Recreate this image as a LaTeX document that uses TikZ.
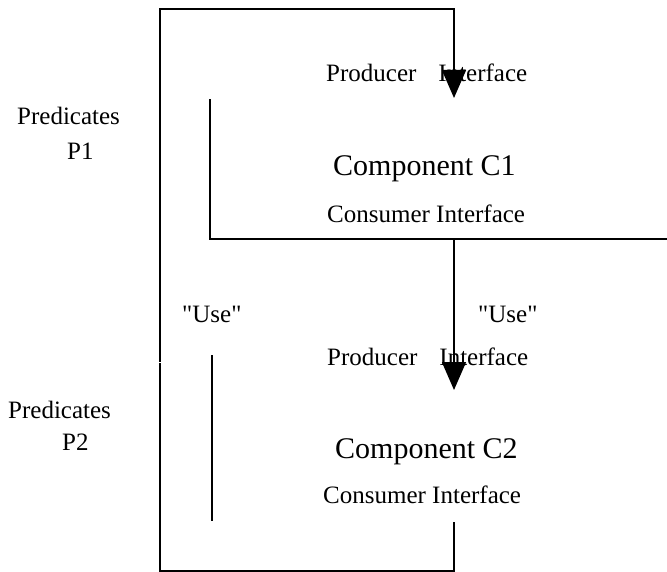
\documentclass[tikz,border=0pt]{standalone}
\usepackage{fontspec}
\setmainfont{Liberation Serif}[Ligatures=TeXOff]
\usetikzlibrary{arrows.meta}
\begin{document}
\begin{tikzpicture}[x=1pt,y=-1pt,
  wire/.style={line width=1.6pt,line cap=rect},
  flow/.style={line width=1.6pt,-{Triangle[length=28pt,width=24pt]}},
  lbl/.style={anchor=base west,inner sep=0pt,font=\fontsize{25}{28}\selectfont},
  big/.style={anchor=base west,inner sep=0pt,font=\fontsize{30}{34}\selectfont}]
\useasboundingbox (0,0) rectangle (667,572);
% coordinates
\coordinate (t1) at (160,9);
\coordinate (t2) at (454,9);
\coordinate (t3) at (160,361);
\coordinate (a1) at (454,98);
\coordinate (i1) at (210,100);
\coordinate (i2) at (210,239);
\coordinate (i3) at (667,239);
\coordinate (j1) at (454,239);
\coordinate (a2) at (454,390);
\coordinate (b1) at (160,364);
\coordinate (b2) at (160,571);
\coordinate (b3) at (454,571);
\coordinate (b4) at (454,523);
\coordinate (k1) at (212,356);
\coordinate (k2) at (212,520);
% lines
\draw[wire] (t3) -- (t1) -- (t2);
\draw[flow] (t2) -- (a1);
\draw[wire] (i1) -- (i2) -- (i3);
\draw[flow] (j1) -- (a2);
\draw[wire] (b1) -- (b2) -- (b3) -- (b4);
\draw[wire] (k1) -- (k2);
% texts
\node[lbl] (pi1) at (326,82) {Producer\hspace{22pt}Interface};
\node[lbl] (pr1) at (17,125) {Predicates};
\node[lbl] (p1) at (67,160) {P1};
\node[big] (c1) at (333,176) {Component C1};
\node[lbl] (ci1) at (327,223) {Consumer Interface};
\node[lbl] (u1) at (182,322) {"Use"};
\node[lbl] (u2) at (478,322) {"Use"};
\node[lbl] (pi2) at (327,365) {Producer\hspace{22pt}Interface};
\node[lbl] (pr2) at (8,418) {Predicates};
\node[lbl] (p2) at (62,450) {P2};
\node[big] (c2) at (335,458) {Component C2};
\node[lbl] (ci2) at (323,503) {Consumer Interface};
\end{tikzpicture}
\end{document}
